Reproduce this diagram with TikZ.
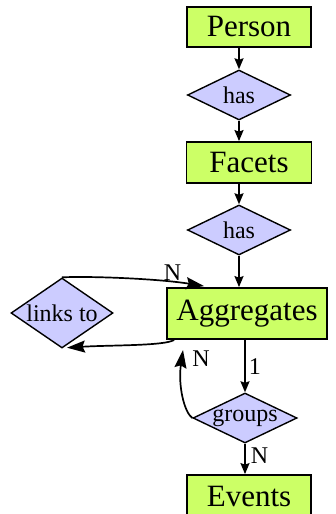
\documentclass[tikz,border=0pt]{standalone}
\usepackage{fontspec}
\setmainfont{Liberation Serif}
\usetikzlibrary{shapes.geometric,arrows.meta,calc}
\definecolor{entgreen}{HTML}{CCFF66}
\definecolor{relblue}{HTML}{CCCCFF}
\tikzset{
  entity/.style={draw, line width=1.8pt, fill=entgreen, rectangle, inner sep=0pt,
    font=\fontsize{31}{34}\selectfont},
  rel/.style={draw, line width=1.4pt, fill=relblue, diamond, inner sep=0pt,
    font=\fontsize{24}{27}\selectfont},
  conn/.style={line width=1.7pt, -{Stealth[length=11pt,width=9pt,inset=1.5pt]}},
  bigconn/.style={line width=1.7pt, -{Stealth[length=18pt,width=12pt,inset=2.5pt]}},
  lbl/.style={font=\fontsize{24}{27}\selectfont, inner sep=1pt}
}
\begin{document}
\begin{tikzpicture}[x=1pt,y=-1pt]
\useasboundingbox (0,0) rectangle (335,514);
\node[entity, minimum width=124pt, minimum height=40pt] (person) at (249,27) {Person};
\node[rel, minimum width=103pt, minimum height=50pt, aspect=2.06] (has1) at (239,95) {has};
\node[entity, minimum width=125pt, minimum height=41pt] (facets) at (249,162.5) {Facets};
\node[rel, minimum width=103pt, minimum height=50pt, aspect=2.06] (has2) at (239,230) {has};
\node[entity, minimum width=160pt, minimum height=51pt] (aggr) at (247,313.5) {Aggregates};
\node[rel, minimum width=102pt, minimum height=70pt, aspect=1.46] (links) at (62,313) {links to};
\node[rel, minimum width=104pt, minimum height=50pt, aspect=2.08] (groups) at (245,418) {groups};
\node[entity, minimum width=124pt, minimum height=42pt] (events) at (249,496) {Events};

\draw[conn] (has1.north |- person.south) -- (has1.north);
\draw[conn] (has1.south) -- (has1.south |- facets.north);
\draw[conn] (has2.north |- facets.south) -- (has2.north);
\draw[conn] (has2.south) -- (has2.south |- aggr.north);

\coordinate (ltip) at ($(aggr.north west)+(38,-1)$);
\draw[bigconn] (links.north) .. controls (95,276) and (160,279) .. (ltip)
  node[lbl, pos=0.78, above] {N};
\coordinate (lstart) at ($(aggr.south west)+(8,0)$);
\draw[bigconn] (lstart) .. controls (165,346) and (110,345) .. ($(links.south)+(5,-1)$);

\draw[conn] (groups.north |- aggr.south) -- (groups.north)
  node[lbl, midway, right=2pt] {1};
\coordinate (gtip) at (183,350);
\draw[bigconn] (groups.west) .. controls (184,412) and (178,385) .. (gtip);
\node[lbl] (nlab) at (201,359) {N};

\draw[conn] (groups.south) -- (groups.south |- events.north)
  node[lbl, midway, right=4pt, yshift=3pt] {N};
\end{tikzpicture}
\end{document}
